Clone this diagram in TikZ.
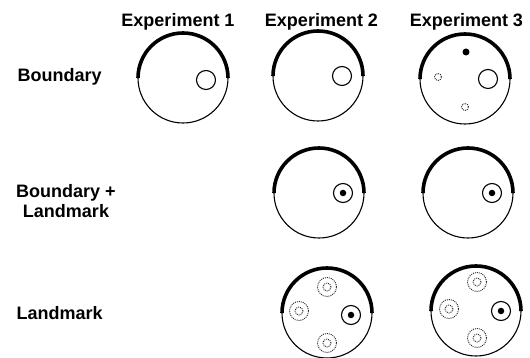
\documentclass[tikz,border=0pt]{standalone}
\usepackage{fontspec}
\setmainfont{Liberation Sans}
\begin{document}
\begin{tikzpicture}[x=1pt, y=1pt, font=\fontsize{18}{20.5}\selectfont\bfseries,
  arena/.style={circle, draw, line width=1.1pt, minimum size=90pt, inner sep=0pt, outer sep=0pt},
  wall/.style={line width=3.6pt},
  cue/.style={circle, draw, line width=1.1pt, minimum size=19pt, inner sep=0pt},
  pin/.style={circle, fill, minimum size=6.5pt, inner sep=0pt},
  ghost/.style={circle, draw=black!85, dash pattern=on 1pt off 1pt, line width=0.9pt, inner sep=0pt},
  hdr/.style={anchor=base},
  lab/.style={anchor=base west}]
\useasboundingbox (0,0) rectangle (530,358);

% ---------------- headers and row labels
\node[hdr] (h1) at (178,331) {Experiment 1};
\node[hdr] (h2) at (321.5,331) {Experiment 2};
\node[hdr] (h3) at (466.5,331) {Experiment 3};
\node[lab] (r1) at (14,276) {Boundary};
\node[align=center] (r2) at (66,157) {Boundary +\\Landmark};
\node[lab] (r3) at (13,38) {Landmark};

% ---------------- row 1: boundary only
\node[arena] (b1) at (183,280) {};
\node[arena] (b2) at (318,282) {};
\node[arena] (b3) at (465,279) {};
\draw[wall] (b1.west) arc[start angle=180, end angle=0, radius=45];
\draw[wall] (b2.west) arc[start angle=180, end angle=0, radius=45];
\draw[wall] (b3.west) arc[start angle=180, end angle=0, radius=45];
\node[cue] (b1c) at (206,278) {};
\node[cue] (b2c) at (342,282) {};
\node[cue] (b3c) at (488,279) {};
\node[pin, minimum size=7pt] (b3p) at (466,306) {};
\node[ghost, minimum size=7pt] (b3w) at (438,281) {};
\node[ghost, minimum size=7pt] (b3s) at (465,251) {};

% ---------------- row 2: boundary + landmark
\node[arena] (m2) at (319,165) {};
\node[arena] (m3) at (468,165) {};
\draw[wall] (m2.west) arc[start angle=180, end angle=0, radius=45];
\draw[wall] (m3.west) arc[start angle=180, end angle=0, radius=45];
\node[cue] (m2c) at (343,165) {};
\node[pin] (m2p) at (m2c) {};
\node[cue] (m3c) at (492,165) {};
\node[pin] (m3p) at (m3c) {};

% ---------------- row 3: landmark only
\node[arena] (l2) at (327,45) {};
\node[arena] (l3) at (476,47) {};
\draw[wall] (l2.west) arc[start angle=180, end angle=0, radius=45];
\draw[wall] (l3.west) arc[start angle=180, end angle=0, radius=45];
\node[cue] (l2c) at (351,43) {};
\node[pin] (l2p) at (l2c) {};
\node[cue] (l3c) at (501,47) {};
\node[pin] (l3p) at (l3c) {};
\node[ghost, minimum size=19pt] (l2n) at (327,71) {};
\node[ghost, minimum size=8pt] (l2ni) at (l2n) {};
\node[ghost, minimum size=19pt] (l2w) at (299,47) {};
\node[ghost, minimum size=8pt] (l2wi) at (l2w) {};
\node[ghost, minimum size=19pt] (l2s) at (327,15) {};
\node[ghost, minimum size=8pt] (l2si) at (l2s) {};
\node[ghost, minimum size=19pt] (l3n) at (477,76) {};
\node[ghost, minimum size=8pt] (l3ni) at (l3n) {};
\node[ghost, minimum size=19pt] (l3w) at (449,49) {};
\node[ghost, minimum size=8pt] (l3wi) at (l3w) {};
\node[ghost, minimum size=19pt] (l3s) at (477,20) {};
\node[ghost, minimum size=8pt] (l3si) at (l3s) {};
\end{tikzpicture}
\end{document}
